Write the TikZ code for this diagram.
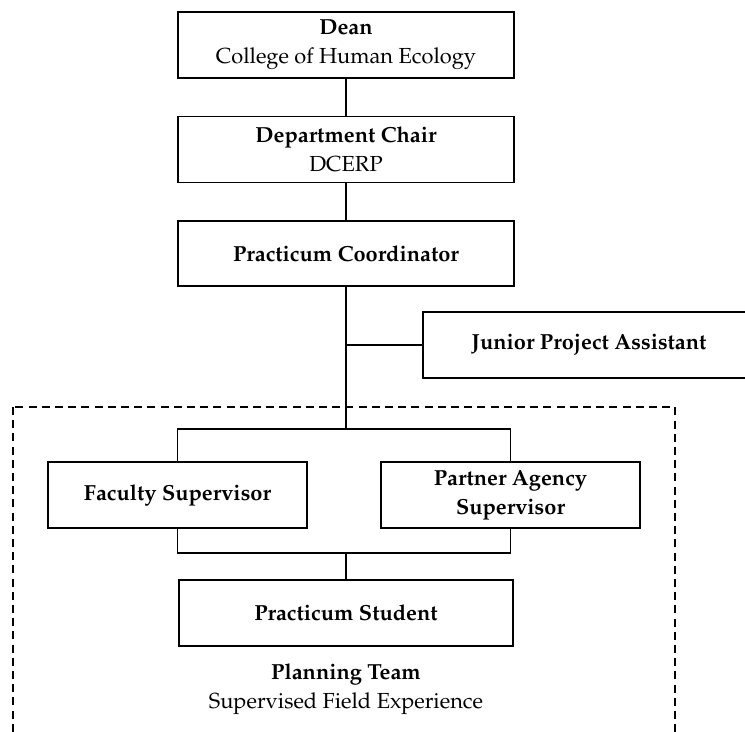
\documentclass[tikz,border=0pt]{standalone}
\usepackage[T1]{fontenc}
\usepackage{mathpazo}
\usetikzlibrary{positioning,calc}

\begin{document}
\begin{tikzpicture}[
    x=0.5pt, y=-0.5pt,
    font=\fontsize{10.9}{14.5}\selectfont,
    box/.style={
        draw,
        minimum width=168pt,
        minimum height=33pt,
        align=center,
        fill=white,
        line width=1.1pt
    },
    lightbox/.style={
        box,
        line width=0.6pt
    },
    sidebox/.style={
        box,
        minimum width=166pt
    },
    teambox/.style={
        draw,
        line width=0.8pt,
        dash pattern=on 4pt off 2.6pt
    },
    link/.style={
        line width=0.8pt
    },
    teamlabel/.style={
        align=center
    }
]

% Page
\useasboundingbox (0,0) rectangle (745,732);
\clip (0,0) rectangle (745,732);

% Dimensions
\def\vgap{18.5pt}

% Planning team frame
\draw[teambox] (13,407) rectangle (675,760);

% Chain of command
\node[box] (dean) at (346,45) {\textbf{Dean}\\College of Human Ecology};
\node[lightbox, below=\vgap of dean] (chair) {\textbf{Department Chair}\\DCERP};
\node[box, below=\vgap of chair, minimum height=32.5pt] (coord) {\textbf{Practicum Coordinator}};
\node[sidebox] (junior) at (589,345) {\textbf{Junior Project Assistant}};

% Supervisors and student
\node[box, minimum width=129.5pt] (faculty) at (177.5,495) {\textbf{Faculty Supervisor}};
\node[box, minimum width=129.5pt] (partner) at (510.5,495) {\textbf{Partner Agency}\\\textbf{Supervisor}};
\node[lightbox, minimum width=167pt] (student) at (346,613) {\textbf{Practicum Student}};

\coordinate (split) at (346,429);
\coordinate (join) at (346,553);

% Connectors
\draw[link] (dean) -- (chair);
\draw[link] (chair) -- (coord);
\draw[link] (coord.south) -- (split);
\draw[link] (coord.south |- junior.west) -- (junior.west);
\draw[link] (faculty.north) |- (split) -| (partner.north);
\draw[link] (faculty.south) |- (join) -| (partner.south);
\draw[link] (join) -- (student.north);

% Team label
\node[teamlabel, below=5pt of student] (team) {\textbf{Planning Team}\\Supervised Field Experience};

\end{tikzpicture}
\end{document}
